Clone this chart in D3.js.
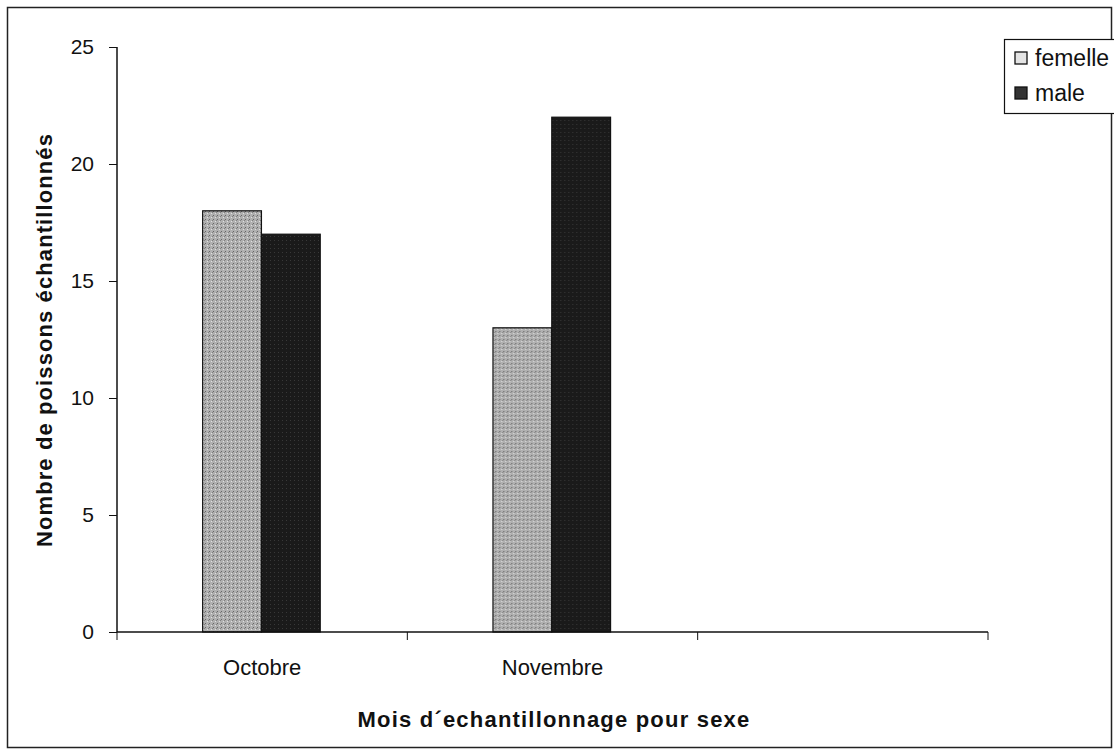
<!DOCTYPE html>
<html>
<head>
<meta charset="utf-8">
<script src="https://cdn.jsdelivr.net/npm/d3@7"></script>
<style>
  body { margin: 0; background: #fff; }
  text { font-family: "Liberation Sans", Arial, sans-serif; }
</style>
</head>
<body>
<svg id="chart"></svg>
<script>
const months = ['Octobre', 'Novembre', '']
const sexes = ['femelle', 'male']
const femelle = [18, 13, null]
const male = [17, 22, null]
const yTicks = [0, 5, 10, 15, 20, 25]

const width = 1114
const height = 753
const margin = {left: 117, right: 126, top: 47, bottom: 121}

const svg = d3.select('#chart')
  .attr('width', width)
  .attr('height', height)

// speckled fills, like the scanned print
const defs = svg.append('defs')
const pat1 = defs.append('pattern')
  .attr('id', 'fem')
  .attr('width', 4)
  .attr('height', 4)
  .attr('patternUnits', 'userSpaceOnUse')
pat1.append('rect').attr('width', 4).attr('height', 4).attr('fill', '#b0b0b0')
pat1.append('rect').attr('x', 0).attr('y', 0).attr('width', 1).attr('height', 1).attr('fill', '#666')
pat1.append('rect').attr('x', 2).attr('y', 2).attr('width', 1).attr('height', 1).attr('fill', '#e0e0e0')
pat1.append('rect').attr('x', 3).attr('y', 1).attr('width', 1).attr('height', 1).attr('fill', '#808080')
const pat2 = defs.append('pattern')
  .attr('id', 'mal')
  .attr('width', 4)
  .attr('height', 4)
  .attr('patternUnits', 'userSpaceOnUse')
pat2.append('rect').attr('width', 4).attr('height', 4).attr('fill', '#1a1a1a')
pat2.append('rect').attr('x', 1).attr('y', 1).attr('width', 1).attr('height', 1).attr('fill', '#383838')

// outer frame
svg.append('rect')
  .attr('x', 7.5)
  .attr('y', 7.5)
  .attr('width', 1104)
  .attr('height', 740)
  .attr('fill', 'none')
  .attr('stroke', '#222')
  .attr('stroke-width', 1.5)

const innerW = width - margin.left - margin.right
const innerH = height - margin.top - margin.bottom

const x = d3.scaleBand()
  .domain(d3.range(months.length))
  .range([0, innerW])
const y = d3.scaleLinear()
  .domain([0, 25])
  .range([innerH, 0])
const x1 = d3.scaleBand()
  .domain(sexes)
  .range([x.bandwidth() * 0.295, x.bandwidth() * 0.70])

const g = svg.append('g')
  .attr('transform', 'translate(' + margin.left + ',' + margin.top + ')')

const rows = months.map((m, i) => ({i: i, femelle: femelle[i], male: male[i]}))
const fills = {femelle: 'url(#fem)', male: 'url(#mal)'}

const groups = g.selectAll('g.month')
  .data(rows)
  .enter()
  .append('g')
  .classed('month', true)
  .attr('transform', (d) => 'translate(' + x(d.i) + ',0)')
groups.selectAll('rect')
  .data((d) => sexes.filter((s) => d[s] !== null).map((s) => ({key: s, value: d[s]})))
  .enter()
  .append('rect')
  .attr('x', (d) => x1(d.key))
  .attr('y', (d) => y(d.value))
  .attr('width', x1.bandwidth())
  .attr('height', (d) => innerH - y(d.value))
  .attr('fill', (d) => fills[d.key])
  .attr('stroke', '#111')
  .attr('stroke-width', 1.2)

// y axis
const yAxis = d3.axisLeft(y)
  .tickValues(yTicks)
  .tickSize(8)
  .tickPadding(15)
g.append('g')
  .call(yAxis)
  .call((a) => a.select('.domain').attr('stroke', '#111').attr('stroke-width', 1.5).attr('d', 'M0,' + innerH + 'V0'))
  .call((a) => a.selectAll('.tick line').attr('stroke', '#111'))
  .call((a) => a.selectAll('.tick text').attr('font-size', 21).attr('fill', '#111').attr('font-family', '"Liberation Sans", Arial, sans-serif'))

// x axis, ticks at category boundaries
g.append('line')
  .attr('x1', 0)
  .attr('x2', innerW)
  .attr('y1', innerH)
  .attr('y2', innerH)
  .attr('stroke', '#111')
  .attr('stroke-width', 1.5)
g.selectAll('line.xtick')
  .data(d3.range(months.length + 1))
  .enter()
  .append('line')
  .classed('xtick', true)
  .attr('x1', (d) => d < months.length ? x(d) : innerW)
  .attr('x2', (d) => d < months.length ? x(d) : innerW)
  .attr('y1', innerH)
  .attr('y2', innerH + 8)
  .attr('stroke', '#111')
g.selectAll('text.xlab')
  .data(months)
  .enter()
  .append('text')
  .classed('xlab', true)
  .attr('x', (d, i) => x(i) + x.bandwidth() / 2)
  .attr('y', innerH + 43)
  .attr('text-anchor', 'middle')
  .attr('font-size', 22)
  .attr('fill', '#111')
  .text((d) => d)

// axis titles
svg.append('text')
  .attr('x', 554)
  .attr('y', 727)
  .attr('text-anchor', 'middle')
  .attr('font-size', 22)
  .attr('font-weight', 'bold')
  .attr('letter-spacing', 1.2)
  .attr('fill', '#111')
  .text('Mois d´echantillonnage pour sexe')
svg.append('text')
  .attr('transform', 'translate(52,340) rotate(-90)')
  .attr('text-anchor', 'middle')
  .attr('font-size', 22)
  .attr('font-weight', 'bold')
  .attr('letter-spacing', 1.1)
  .attr('fill', '#111')
  .text('Nombre de poissons échantillonnés')

// legend
const legend = svg.append('g')
  .attr('transform', 'translate(1004,39)')
legend.append('rect')
  .attr('x', 0.5)
  .attr('y', 0.5)
  .attr('width', 150)
  .attr('height', 74)
  .attr('fill', '#fff')
  .attr('stroke', '#111')
  .attr('stroke-width', 1.2)
const items = legend.selectAll('g.item')
  .data(sexes)
  .enter()
  .append('g')
  .classed('item', true)
  .attr('transform', (d, i) => 'translate(0,' + (19 + i * 35) + ')')
items.append('rect')
  .attr('x', 11)
  .attr('y', -6)
  .attr('width', 12)
  .attr('height', 12)
  .attr('fill', (d) => d === 'femelle' ? '#e4e4e4' : '#333')
  .attr('stroke', '#111')
  .attr('stroke-width', 1.3)
items.append('text')
  .attr('x', 31)
  .attr('y', 8)
  .attr('font-size', 23)
  .attr('fill', '#111')
  .text((d) => d)
</script>
</body>
</html>
